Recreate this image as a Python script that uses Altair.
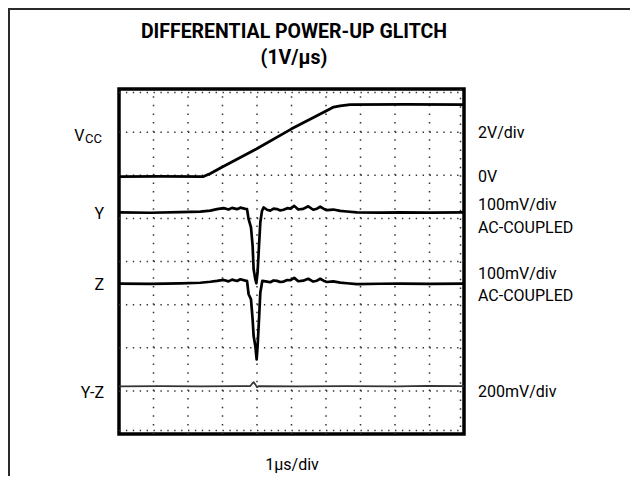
import altair as alt
import pandas as pd

# ---- trace data (x in µs divisions 0..10, y in vertical divisions 0..8) ----
vcc_x = [0, 1.2, 2.45, 2.65, 2.94, 3.98, 4.99, 6.03, 6.22, 6.41, 6.70, 8.3, 10]
vcc_y = [5.97, 5.975, 5.97, 6.04, 6.17, 6.61, 7.07, 7.50, 7.58, 7.61, 7.64, 7.645, 7.64]

y_x = [0, 0.912, 1.780, 2.359, 2.648, 2.842, 3.033, 3.178, 3.276, 3.421, 3.517, 3.662,
       3.711, 3.757, 3.826, 3.873, 3.902, 3.951, 3.980, 4.017, 4.058, 4.096, 4.145,
       4.191, 4.289, 4.385, 4.480, 4.579, 4.674, 4.770, 4.877, 4.964, 5.080, 5.195,
       5.340, 5.485, 5.630, 5.737, 5.832, 5.928, 6.026, 6.208, 6.411, 6.605, 6.894,
       7.568, 8.147, 9.016, 10]
y_y = [5.137, 5.130, 5.144, 5.156, 5.179, 5.214, 5.237, 5.205, 5.244, 5.214, 5.248, 5.221,
       5.214, 4.981, 4.789, 4.361, 3.820, 3.588, 3.495, 3.751, 4.361, 4.905, 5.174,
       5.253, 5.200, 5.180, 5.225, 5.215, 5.185, 5.200, 5.237, 5.225, 5.290, 5.205,
       5.220, 5.280, 5.200, 5.225, 5.270, 5.225, 5.190, 5.205, 5.174, 5.160, 5.137,
       5.132, 5.140, 5.132, 5.137]

z_x = [0, 0.912, 1.780, 2.359, 2.648, 2.842, 3.033, 3.178, 3.276, 3.421, 3.517, 3.662,
       3.711, 3.757, 3.826, 3.873, 3.902, 3.951, 3.990, 4.017, 4.058, 4.096, 4.154,
       4.289, 4.385, 4.480, 4.579, 4.674, 4.770, 4.877, 4.964, 5.080, 5.195,
       5.340, 5.485, 5.630, 5.737, 5.832, 5.928, 6.026, 6.208, 6.411, 6.605, 6.894,
       7.568, 8.147, 9.016, 10]
z_y = [3.488, 3.480, 3.495, 3.507, 3.530, 3.549, 3.572, 3.540, 3.580, 3.549, 3.588, 3.556,
       3.549, 3.240, 3.124, 2.659, 2.271, 2.039, 1.730, 2.039, 2.659, 3.279, 3.549,
       3.535, 3.520, 3.560, 3.550, 3.525, 3.535, 3.570, 3.565, 3.620, 3.542,
       3.555, 3.600, 3.535, 3.555, 3.600, 3.555, 3.525, 3.540, 3.511, 3.495, 3.475,
       3.484, 3.488, 3.480, 3.488]

yz_x = [0, 1.201, 2.359, 3.517, 3.806, 3.864, 3.902, 3.951, 4.000, 4.052, 5.239, 6.614, 8.061, 8.929, 10]
yz_y = [1.103, 1.112, 1.103, 1.108, 1.112, 1.173, 1.203, 1.150, 1.085, 1.112, 1.103, 1.112, 1.103, 1.116, 1.108]

# ---- graticule ----
h_lines = [1, 2, 3, 4, 5, 6, 7]
v_lines = [1, 2, 3, 4, 5, 6, 7, 8, 9]

# ---- labels ----
left_labels = ["Y", "Z", "Y-Z"]
left_y = [5.10, 3.45, 0.96]
right_labels = ["2V/div", "0V", "100mV/div", "AC-COUPLED", "100mV/div", "AC-COUPLED", "200mV/div"]
right_y = [6.98, 5.97, 5.32, 4.78, 3.70, 3.20, 0.975]
vcc_label_y = [6.90]

FONT = "Roboto, Liberation Sans Narrow, DejaVu Sans Condensed, sans-serif"

W, H = 345, 345
xs = alt.Scale(domain=[0, 10], nice=False, zero=False)
ys = alt.Scale(domain=[0, 8], nice=False, zero=False)
ONE = pd.DataFrame({"a": [0]})


def trace(xv, yv, width, color="black"):
    df = pd.DataFrame({"x": xv, "y": yv})
    return alt.Chart(df).mark_line(color=color, strokeWidth=width, interpolate="linear",
                                   strokeJoin="round").encode(
        x=alt.X("x:Q", scale=xs, axis=None),
        y=alt.Y("y:Q", scale=ys, axis=None),
    )


hdf = pd.DataFrame({"v": h_lines, "a": [0] * len(h_lines), "b": [10] * len(h_lines)})
hgrid = alt.Chart(hdf).mark_rule(
    color="#333", strokeWidth=1.5, strokeDash=[1.4, 5.5]
).encode(y=alt.Y("v:Q", scale=ys, axis=None), x=alt.X("a:Q", scale=xs, axis=None), x2="b:Q")

vdf = pd.DataFrame({"v": v_lines, "a": [0] * len(v_lines), "b": [8] * len(v_lines)})
vgrid = alt.Chart(vdf).mark_rule(
    color="#333", strokeWidth=1.5, strokeDash=[1.5, 7.125]
).encode(x=alt.X("v:Q", scale=xs, axis=None), y=alt.Y("a:Q", scale=ys, axis=None), y2="b:Q")

edge_top = alt.Chart(ONE).mark_rule(color="#333", strokeWidth=1.5, strokeDash=[1.4, 5.5]).encode(
    x=alt.value(0), x2=alt.value(W), y=alt.value(3.5))
edge_bot = alt.Chart(ONE).mark_rule(color="#333", strokeWidth=1.5, strokeDash=[1.4, 5.5]).encode(
    x=alt.value(0), x2=alt.value(W), y=alt.value(H - 3.5))
edge_right = alt.Chart(ONE).mark_rule(color="#333", strokeWidth=1.5, strokeDash=[1.5, 7.125]).encode(
    y=alt.value(0), y2=alt.value(H), x=alt.value(W - 3.5))

frame_top = alt.Chart(ONE).mark_rule(color="#2a2a2a", strokeWidth=2).encode(
    x=alt.value(-111), x2=alt.value(W + 170), y=alt.value(-80))
frame_left = alt.Chart(ONE).mark_rule(color="#2a2a2a", strokeWidth=2).encode(
    x=alt.value(-110), y=alt.value(-81), y2=alt.value(H + 45))

title1 = alt.Chart(ONE).mark_text(font=FONT, fontSize=19.5, fontWeight="bold", baseline="middle",
                                  align="center", text="DIFFERENTIAL POWER-UP GLITCH").encode(
    x=alt.value(175), y=alt.value(-57))
title2 = alt.Chart(ONE).mark_text(font=FONT, fontSize=19.5, fontWeight="bold", baseline="middle",
                                  align="center", text="(1V/µs)").encode(
    x=alt.value(175), y=alt.value(-31))
xlabel = alt.Chart(ONE).mark_text(font=FONT, fontSize=16, baseline="middle", align="center",
                                  text="1µs/div").encode(x=alt.value(173), y=alt.value(376))

left = alt.Chart(pd.DataFrame({"t": left_labels, "y": left_y})).mark_text(
    font=FONT, fontSize=16, align="right", baseline="middle").encode(
    x=alt.value(-15), y=alt.Y("y:Q", scale=ys, axis=None), text="t:N")

vcc_df = pd.DataFrame({"y": vcc_label_y})
vcc_v = alt.Chart(vcc_df).mark_text(font=FONT, fontSize=16, align="right", baseline="middle",
                                    text="V").encode(
    x=alt.value(-34.5), y=alt.Y("y:Q", scale=ys, axis=None))
vcc_cc = alt.Chart(vcc_df).mark_text(font=FONT, fontSize=13, align="left", baseline="middle",
                                     text="CC", dy=3).encode(
    x=alt.value(-34), y=alt.Y("y:Q", scale=ys, axis=None))

right = alt.Chart(pd.DataFrame({"t": right_labels, "y": right_y})).mark_text(
    font=FONT, fontSize=16, align="left", baseline="middle").encode(
    x=alt.value(359), y=alt.Y("y:Q", scale=ys, axis=None), text="t:N")

chart = alt.layer(
    hgrid, vgrid, edge_top, edge_bot, edge_right,
    trace(vcc_x, vcc_y, 2.8),
    trace(y_x, y_y, 2.7),
    trace(z_x, z_y, 2.7),
    trace(yz_x, yz_y, 1.7, "#333"),
    frame_top, frame_left, title1, title2, xlabel, left, vcc_v, vcc_cc, right,
).properties(
    width=W, height=H,
    autosize=alt.AutoSizeParams(type="none"),
    padding={"left": 111, "top": 81, "right": 166, "bottom": 42},
    background="white",
).configure_view(stroke="black", strokeWidth=3.5)

chart.save("out.html", embed_options={"renderer": "svg", "actions": False})
